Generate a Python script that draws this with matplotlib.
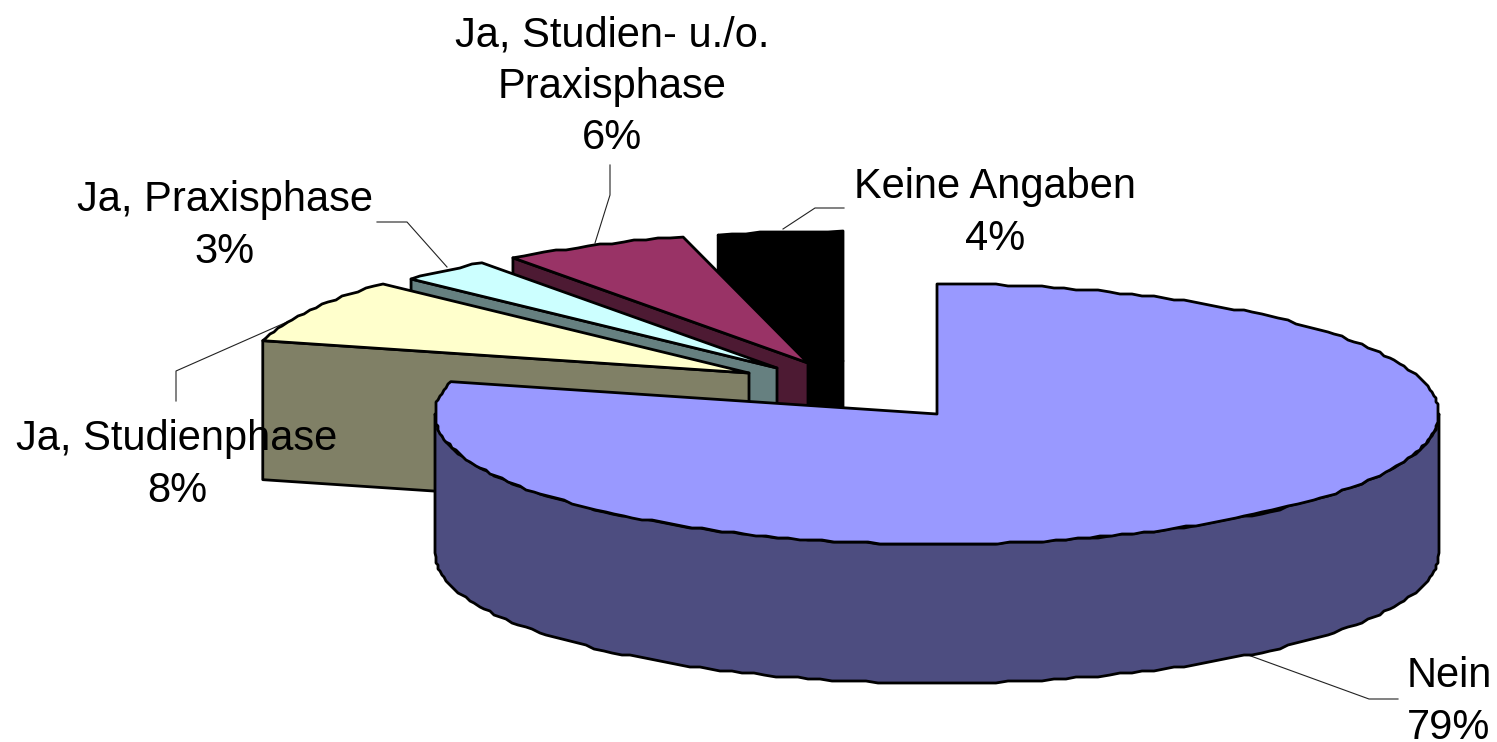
#!/usr/bin/env python3
# -*- coding: utf-8 -*-
import numpy as np
import matplotlib
matplotlib.use('Agg')
import matplotlib.pyplot as plt
from matplotlib.patches import Polygon

### DATA ---------------------------------------------------------------------------
names = ['Nein', 'Ja, Studienphase', 'Ja, Praxisphase', 'Ja, Studien- u./o.\nPraxisphase', 'Keine Angaben']
shares = [79, 8, 3, 6, 4]
top_colors = ['#9999FF', '#FFFFCC', '#CCFFFF', '#993366', '#000000']
wall_colors = ['#4D4D80', '#808066', '#668080', '#4D1A33', '#000000']

# shift of each slice against the pie centre, pixels
shift_x = [0, -188, -160, -129, -94]
shift_y = [0, -41, -46, -51, -53]

# label centres and leader lines, pixels
label_x = [1449, 177, 225, 612, 995]
label_y = [702, 465, 226, 87, 213]
leaders = [[(1398, 699), (1369, 699), (1248, 655)],
           [(176, 401), (176, 371), (287, 322)],
           [(377, 222), (407, 222), (447, 267)],
           [(610, 165), (610, 195), (595, 243)],
           [(844, 208), (815, 208), (783, 229)]]
###---------------------------------------------------------------------------------

cx, cy = 937, 414
rx, ry = 502, 130
depth = 139
snap = 2.0


def rim(a1, a2, dx=0, dy=0):
    # outer edge between two angles (degrees), rough like the low-res original
    n = max(2, int(abs(a2 - a1) * 0.75))
    t = np.radians(np.linspace(a1, a2, n))
    x = cx + dx + rx * np.cos(t)
    y = cy + dy - ry * np.sin(t)
    x[1:-1] = np.round(x[1:-1] / snap) * snap
    y[1:-1] = np.round(y[1:-1] / snap) * snap
    return np.column_stack([x, y])


fig = plt.figure(figsize=(14.97, 7.42), dpi=100)
ax = fig.add_axes([0, 0, 1, 1])
ax.set_xlim(0, 1497)
ax.set_ylim(742, 0)
ax.axis('off')

# angles clockwise from 12 o'clock
edges = 90 - np.cumsum([0] + shares) * 3.6
lw = 2.0

# back slices first, Nein goes on top
for i in [4, 3, 2, 1]:
    a1, a2 = edges[i], edges[i + 1]
    dx, dy = shift_x[i], shift_y[i]
    apex = np.array([cx + dx, cy + dy])
    edge = rim(a1, a2, dx, dy)
    wall = [apex, edge[0], edge[0] + [0, depth], apex + [0, depth]]
    ax.add_patch(Polygon(wall, closed=True, fc=wall_colors[i], ec='black', lw=lw, joinstyle='round', zorder=5 - i))
    ax.add_patch(Polygon(np.vstack([apex, edge]), closed=True, fc=top_colors[i], ec='black', lw=lw,
                         joinstyle='round', zorder=5 - i))

# Nein: front wall, then top face
front = rim(180, 360)
ax.add_patch(Polygon(np.vstack([front, (front + [0, depth])[::-1]]), closed=True, fc=wall_colors[0],
                     ec='black', lw=lw, joinstyle='round', zorder=6))
ax.add_patch(Polygon(np.vstack([[cx, cy], rim(90, 90 - shares[0] * 3.6)]), closed=True, fc=top_colors[0],
                     ec='black', lw=lw, joinstyle='round', zorder=7))

for i in range(len(names)):
    pts = np.array(leaders[i])
    ax.plot(pts[:, 0], pts[:, 1], color='#222222', lw=0.8, zorder=0)
    ax.text(label_x[i], label_y[i], f'{names[i]}\n{shares[i]}%', ha='center', va='center', fontsize=30,
            family='Liberation Sans', linespacing=1.37, color='black', zorder=10)

plt.savefig('out.png', dpi=100)
plt.close()
